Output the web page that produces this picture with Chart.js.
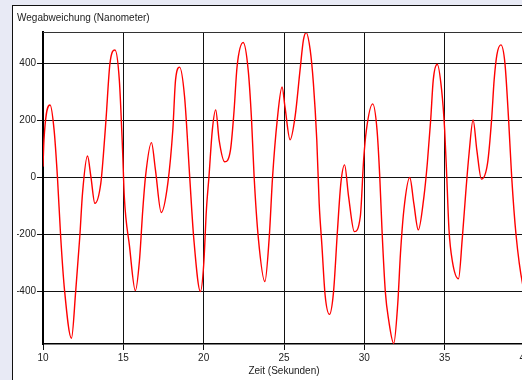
<!DOCTYPE html>
<html>
<head>
<meta charset="utf-8">
<script src="https://cdn.jsdelivr.net/npm/chart.js@4"></script>
<style>
  html, body { margin: 0; padding: 0; width: 522px; height: 380px; overflow: hidden; background: #e8eaf5; }
  #panel {
    position: absolute; left: 12px; top: 5px; width: 560px; height: 380px;
    background: #fff; border-left: 1px solid #111; border-top: 1px solid #111;
  }
  #chart { position: absolute; left: 0; top: 0; }
</style>
</head>
<body>
<div id="panel"><canvas id="chart" width="540" height="374"></canvas></div>
<script>
// Zeit (s) und Wegabweichung (nm)
const times = [
  10.0, 10.06, 10.44, 10.69, 10.9, 11.1, 11.34, 11.77, 12.04, 12.29, 12.46, 12.77, 12.98, 13.23, 13.6, 13.75,
  13.92, 14.17, 14.48, 14.75, 14.96, 15.06, 15.38, 15.75, 16.0, 16.21, 16.38, 16.75, 17.0, 17.36, 17.77, 18.08,
  18.25, 18.5, 18.81, 19.13, 19.38, 19.8, 20.0, 20.17, 20.33, 20.54, 20.75, 20.96, 21.31, 21.67, 21.88, 22.08,
  22.46, 22.77, 22.98, 23.14, 23.4, 23.81, 24.08, 24.29, 24.58, 24.88, 25.06, 25.38, 25.69, 26.0, 26.21, 26.38,
  26.63, 26.83, 27.04, 27.19, 27.36, 27.56, 27.83, 28.08, 28.33, 28.54, 28.77, 29.02, 29.38, 29.75, 29.96, 30.13,
  30.52, 30.79, 30.96, 31.1, 31.31, 31.52, 31.83, 32.08, 32.25, 32.46, 32.83, 33.08, 33.36, 33.71, 33.92, 34.13,
  34.29, 34.54, 34.81, 35.0, 35.13, 35.27, 35.48, 35.86, 36.1, 36.31, 36.52, 36.77, 37.0, 37.29, 37.67, 37.92,
  38.08, 38.25, 38.5, 38.75, 38.98, 39.17, 39.44, 39.86, 40.0
];
const deviation = [
  38, 131, 254, 167, 0, -208, -395, -564, -395, -208, -55, 75, 3, -91, -20, 73,
  202, 401, 447, 342, 85, -67, -239, -397, -294, -114, 3, 122, 26, -123, -20, 167,
  342, 387, 284, 3, -211, -400, -308, -114, 3, 167, 237, 132, 55, 97, 225, 389,
  473, 377, 202, 3, -211, -365, -211, 3, 202, 317, 248, 132, 213, 377, 482, 508,
  447, 330, 132, -91, -239, -413, -480, -403, -184, -20, 44, -67, -190, -137, 65, 167,
  258, 167, 3, -184, -403, -502, -582, -443, -266, -114, 0, -91, -184, -67, 50, 202,
  342, 397, 307, 167, 3, -184, -294, -355, -211, -55, 85, 202, 97, -6, 50, 202,
  342, 430, 465, 401, 202, 3, -200, -377, -400
];
const xTicks = [10, 15, 20, 25, 30, 35, 40];
const yTicks = [-400, -200, 0, 200, 400];

const fontFamily = "'Liberation Sans', Arial, sans-serif";

// Rahmen oben am Plotbereich
const topBorder = {
  id: 'topBorder',
  afterDraw(chart) {
    const { ctx, chartArea } = chart;
    ctx.save();
    ctx.strokeStyle = '#333';
    ctx.lineWidth = 1;
    ctx.beginPath();
    ctx.moveTo(chartArea.left, Math.round(chartArea.top) + 0.5);
    ctx.lineTo(chartArea.right, Math.round(chartArea.top) + 0.5);
    ctx.stroke();
    ctx.restore();
  }
};

new Chart(document.getElementById('chart').getContext('2d'), {
  type: 'line',
  data: {
    datasets: [{
      data: times.map((t, i) => ({ x: t, y: deviation[i] })),
      borderColor: '#ff0000',
      borderWidth: 1.4,
      pointRadius: 0,
      fill: false,
      cubicInterpolationMode: 'monotone'
    }]
  },
  options: {
    responsive: false,
    animation: false,
    layout: { padding: { left: 4, right: 28, top: 0, bottom: 0 } },
    scales: {
      x: {
        type: 'linear',
        min: 10,
        max: 40,
        afterBuildTicks: (s) => { s.ticks = xTicks.map(v => ({ value: v })); },
        afterFit: (s) => { s.height = 36; s.paddingLeft = 0; s.paddingRight = 0; },
        grid: { color: '#111', lineWidth: 1, tickLength: 6 },
        border: { color: '#000', width: 1.5 },
        ticks: { color: '#222', padding: 2, maxRotation: 0, font: { family: fontFamily, size: 10 } },
        title: {
          display: true,
          text: 'Zeit (Sekunden)',
          color: '#222',
          padding: { top: 3, bottom: 3 },
          font: { family: fontFamily, size: 10 }
        }
      },
      y: {
        min: -584,
        max: 510,
        afterBuildTicks: (s) => { s.ticks = yTicks.map(v => ({ value: v })); },
        afterFit: (s) => { s.width = 26; s.paddingTop = 0; s.paddingBottom = 0; },
        grid: { color: '#111', lineWidth: 1, tickLength: 6 },
        border: { color: '#000', width: 2 },
        ticks: { color: '#222', padding: 1, font: { family: fontFamily, size: 10 } }
      }
    },
    plugins: {
      legend: { display: false },
      tooltip: { enabled: false },
      title: {
        display: true,
        text: 'Wegabweichung (Nanometer)',
        align: 'start',
        color: '#222',
        padding: { top: 6, bottom: 8 },
        font: { family: fontFamily, size: 10, weight: 'normal' }
      }
    }
  },
  plugins: [topBorder]
});
</script>
</body>
</html>
